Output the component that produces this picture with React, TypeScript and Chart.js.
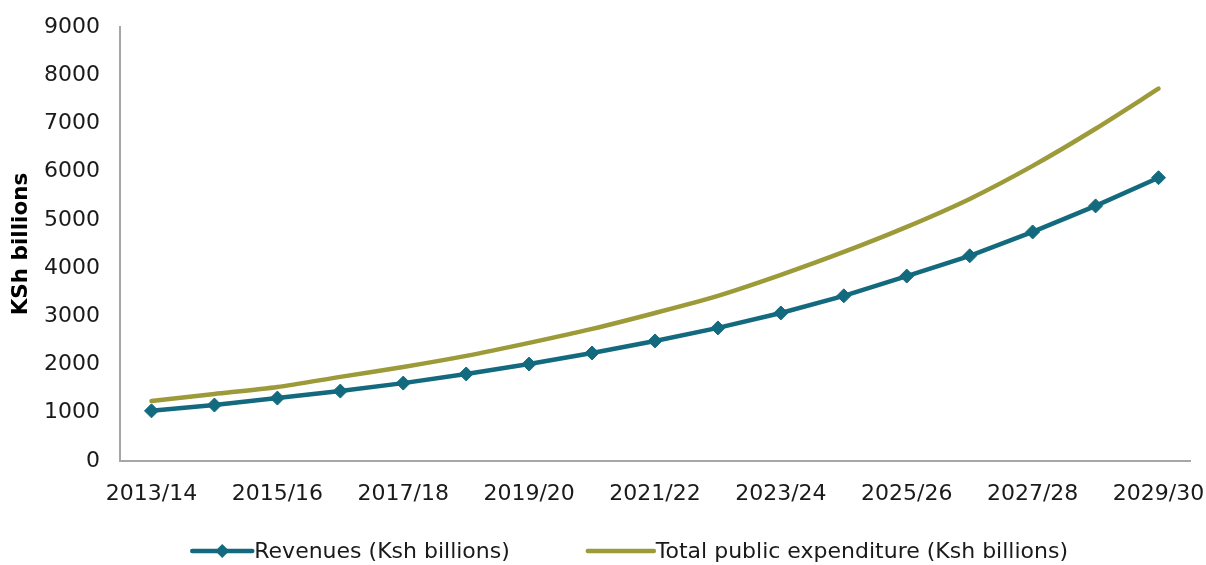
import React, { useEffect, useRef } from "react";
import { Chart, registerables } from "chart.js";

Chart.register(...registerables);

const categories = [
  "2013/14", "2014/15", "2015/16", "2016/17", "2017/18", "2018/19", "2019/20", "2020/21",
  "2021/22", "2022/23", "2023/24", "2024/25", "2025/26", "2026/27", "2027/28", "2028/29", "2029/30",
];
const revenues = [1040, 1160, 1305, 1450, 1615, 1805, 2010, 2240, 2490, 2760, 3070, 3425, 3835, 4255, 4750, 5290, 5875];
const expenditure = [1245, 1390, 1535, 1745, 1950, 2180, 2450, 2740, 3070, 3425, 3860, 4335, 4855, 5435, 6120, 6890, 7720];
const yTicks = { min: 0, max: 9000, step: 1000 };

const REV_COLOR = "#136a7f";
const EXP_COLOR = "#9d9a3a";
const FONT = '"DejaVu Sans", sans-serif';

const legendPlugin = {
  id: "customLegend",
  afterDraw(chart: any) {
    const ctx = chart.ctx;
    ctx.save();
    ctx.font = `22px ${FONT}`;
    ctx.textBaseline = "middle";
    ctx.fillStyle = "#1a1a1a";
    const ds = chart.data.datasets;
    const sampleW = [60, 66];
    const sampleGap = 2;
    const itemGap = 78;
    const widths = ds.map((d: any) => ctx.measureText(d.label).width);
    let total = 0;
    ds.forEach((_: any, i: number) => {
      total += sampleW[i] + sampleGap + widths[i];
      if (i < ds.length - 1) total += itemGap;
    });
    let x = chart.width * 0.5225 - total / 2;
    const y = chart.height - 14;
    ds.forEach((d: any, i: number) => {
      ctx.strokeStyle = d.borderColor;
      ctx.lineWidth = d.borderWidth;
      ctx.lineCap = "round";
      ctx.beginPath();
      ctx.moveTo(x, y);
      ctx.lineTo(x + sampleW[i], y);
      ctx.stroke();
      if (d.pointRadius > 0) {
        const cx = x + sampleW[i] / 2;
        const r = d.pointRadius;
        ctx.fillStyle = d.pointBackgroundColor;
        ctx.beginPath();
        ctx.moveTo(cx - r, y);
        ctx.lineTo(cx, y - r);
        ctx.lineTo(cx + r, y);
        ctx.lineTo(cx, y + r);
        ctx.closePath();
        ctx.fill();
      }
      ctx.fillStyle = "#1a1a1a";
      ctx.textAlign = "left";
      ctx.fillText(d.label, x + sampleW[i] + sampleGap, y + 1);
      x += sampleW[i] + sampleGap + widths[i] + itemGap;
    });
    ctx.restore();
  },
};

export default function App() {
  const ref = useRef<HTMLCanvasElement | null>(null);
  useEffect(() => {
    if (!ref.current) return;
    const chart = new Chart(ref.current, {
      type: "line",
      data: {
        labels: categories,
        datasets: [
          {
            label: "Revenues (Ksh billions)",
            data: revenues,
            borderColor: REV_COLOR,
            backgroundColor: REV_COLOR,
            borderWidth: 4.5,
            pointStyle: "rectRot",
            pointRadius: 7,
            pointBackgroundColor: REV_COLOR,
            pointBorderColor: REV_COLOR,
            pointBorderWidth: 1,
            tension: 0,
            order: 1,
          },
          {
            label: "Total public expenditure (Ksh billions)",
            data: expenditure,
            borderColor: EXP_COLOR,
            backgroundColor: EXP_COLOR,
            borderWidth: 4.5,
            pointRadius: 0,
            pointBackgroundColor: EXP_COLOR,
            tension: 0.25,
            borderCapStyle: "round",
            order: 2,
          },
        ],
      },
      options: {
        responsive: false,
        animation: false,
        layout: { padding: { top: 27, right: 16, left: 0, bottom: 0 } },
        plugins: { legend: { display: false }, tooltip: { enabled: false } },
        scales: {
          x: {
            offset: true,
            grid: { display: true, drawOnChartArea: false, drawTicks: false },
            border: { display: true, color: "#a6a6a6", width: 2 },
            ticks: {
              autoSkip: false,
              maxRotation: 0,
              padding: 20,
              color: "#1a1a1a",
              font: { family: FONT, size: 22 },
              callback: (_v: any, i: number) => (i % 2 === 0 ? categories[i] : ""),
            },
            afterFit: (s: any) => {
              s.height = 104;
              s.paddingLeft = 0;
              s.paddingRight = 0;
            },
          },
          y: {
            min: yTicks.min,
            max: yTicks.max,
            grid: { display: true, drawOnChartArea: false, drawTicks: false },
            border: { display: true, color: "#a6a6a6", width: 2 },
            ticks: {
              stepSize: yTicks.step,
              padding: 20,
              color: "#1a1a1a",
              font: { family: FONT, size: 22 },
              callback: (v: any) => String(v),
            },
            title: {
              display: true,
              text: "KSh billions",
              color: "#000",
              font: { family: FONT, size: 21.5, weight: "bold" },
              padding: { top: 9, bottom: 0 },
            },
            afterFit: (s: any) => {
              s.width = 120;
              s.paddingTop = 0;
              s.paddingBottom = 0;
            },
          },
        },
      },
      plugins: [legendPlugin],
    } as any);
    return () => chart.destroy();
  }, []);
  return (
    <div style={{ position: "absolute", left: 0, top: 0, width: 1206, height: 565, background: "#fff" }}>
      <canvas ref={ref} width={1206} height={565} style={{ display: "block" }} />
    </div>
  );
}
